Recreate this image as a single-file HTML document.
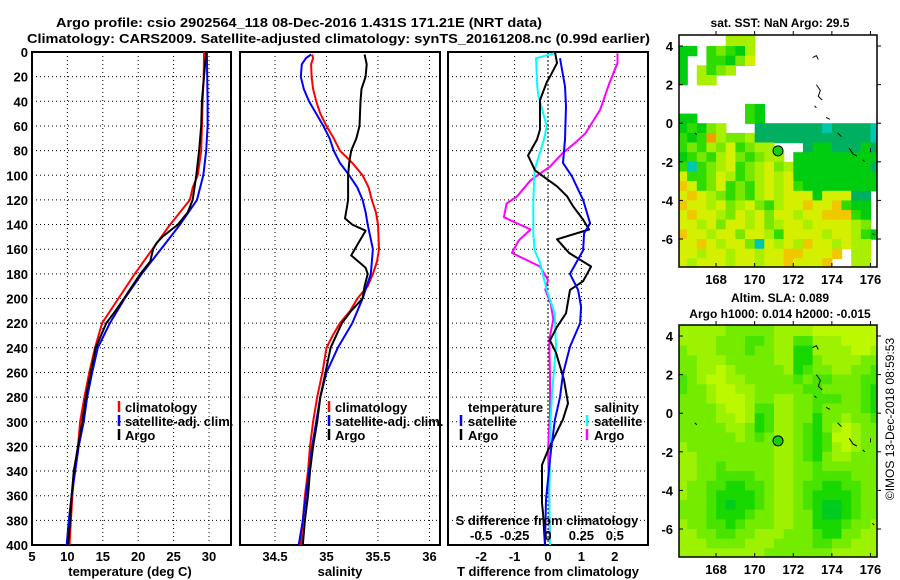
<!DOCTYPE html>
<html><head><meta charset="utf-8"><title>Argo profile</title>
<style>
html,body{margin:0;padding:0;background:#fff;}
svg{display:block;font-family:"Liberation Sans",Arial,sans-serif;font-weight:bold;}
</style></head>
<body>
<svg id="fig" width="900" height="580" viewBox="0 0 900 580" xmlns="http://www.w3.org/2000/svg">
<rect width="900" height="580" fill="#fff"/>
<text x="56" y="27" font-size="13" textLength="486" lengthAdjust="spacingAndGlyphs">Argo profile: csio 2902564_118 08-Dec-2016 1.431S 171.21E (NRT data)</text>
<text x="27" y="43" font-size="13" textLength="623" lengthAdjust="spacingAndGlyphs">Climatology: CARS2009. Satellite-adjusted climatology: synTS_20161208.nc (0.99d earlier)</text>
<g id="g"></g>
</svg>
<script>
// ---------- Data ----------
const depthTicks=[0,20,40,60,80,100,120,140,160,180,200,220,240,260,280,300,320,340,360,380,400];
const tempTicks=[5,10,15,20,25,30];
const salTicks=[34.5,35,35.5,36];
const tdiffTicks=[-2,-1,0,1,2];
const sdiffTicks=[-0.5,-0.25,0,0.25,0.5];
const sdiffTickLabels=["-0.5","-0.25","0","0.25","0.5"];

const tempClimDepth=[0,20,40,60,80,100,110,120,140,160,180,200,220,240,260,280,300,320,340,360,380,400];
const tempClim=[29.3,29.25,29.1,29.0,28.9,28.4,27.7,27.3,24.5,22.0,19.5,17.2,14.9,13.9,13.1,12.4,11.8,11.5,11.0,10.7,10.5,10.3];
const tempSatDepth=[0,20,40,60,80,100,120,140,160,180,200,220,240,260,280,300,320,340,360,380,400];
const tempSat=[29.7,29.75,29.8,29.8,29.6,29.2,28.3,25.9,23.2,20.5,18.1,16.0,14.3,13.5,12.8,12.3,11.6,11.1,10.6,10.2,9.9];
const tempArgoDepth=[0,20,40,60,80,100,120,130,140,150,155,160,170,180,200,210,220,240,260,280,300,320,340,360,380,400];
const tempArgo=[29.6,29.3,29.0,28.9,28.6,28.2,27.7,27.0,25.6,23.4,22.6,22.1,21.7,20.3,18.0,16.8,15.5,14.0,13.3,12.6,12.1,11.5,10.9,10.6,10.4,10.1];

const salClimDepth=[2,5,10,20,30,40,50,60,70,80,90,100,110,120,130,140,160,170,180,190,200,210,220,230,240,260,280,300,320,340,360,380,400];
const salClim=[34.86,34.87,34.85,34.855,34.87,34.90,34.94,35.0,35.07,35.13,35.25,35.35,35.41,35.44,35.48,35.5,35.51,35.49,35.45,35.40,35.30,35.23,35.13,35.06,35.0,34.96,34.91,34.87,34.84,34.82,34.79,34.77,34.75];
const salSatDepth=[2,5,10,20,30,40,50,60,70,80,90,100,110,120,130,140,160,180,190,200,220,240,260,280,300,320,340,360,380,400];
const salSat=[34.85,34.80,34.76,34.75,34.78,34.83,34.90,34.97,35.03,35.07,35.13,35.22,35.30,35.35,35.38,35.40,35.45,35.43,35.39,35.35,35.25,35.11,35.0,34.94,34.90,34.86,34.83,34.80,34.77,34.73];
const salArgoDepth=[2,10,20,30,40,60,70,80,90,100,120,125,135,140,145,155,165,175,180,190,200,210,220,240,260,280,300,320,340,360,380,400];
const salArgo=[35.37,35.39,35.38,35.34,35.33,35.32,35.29,35.24,35.22,35.21,35.21,35.20,35.18,35.25,35.38,35.31,35.24,35.38,35.40,35.37,35.35,35.24,35.15,35.04,34.99,34.94,34.91,34.87,34.84,34.82,34.79,34.77];

const tdSatDepth=[5,28,44,71,90,101,120,139,147,161,180,193,207,220,239,261,280,298,323,339,363,400];
const tdSat=[0.36,0.51,0.54,0.51,0.45,0.72,1.05,1.26,1.08,1.05,0.66,0.90,0.99,0.96,0.66,0.45,0.36,0.21,0.09,0.03,-0.06,-0.09];
const tdArgoDepth=[0,9,20,24,39,63,71,84,96,102,109,117,125,136,144,152,163,174,186,193,212,223,234,244,266,285,298,323,335,366,374,400];
const tdArgo=[0.21,0.27,0.06,-0.03,-0.24,-0.24,-0.33,-0.60,-0.39,-0.09,0.27,0.57,0.75,1.05,1.23,0.27,0.63,1.29,1.05,0.66,0.54,0.27,0.06,0.24,0.48,0.60,0.45,0.0,-0.18,-0.18,-0.15,-0.09];
const sdSatDepth=[1,5,29,36,60,71,85,96,120,147,161,171,193,212,239,277,298,323,363,400];
const sdSat=[0.05,-0.09,-0.08,-0.07,-0.01,-0.03,-0.07,-0.10,-0.11,-0.11,-0.10,-0.06,-0.01,0.05,0.06,0.03,0.02,0.015,0.01,0.015];
const sdArgoDepth=[1,5,9,25,47,66,74,82,93,104,117,123,134,144,153,163,174,185,193,204,217,233,266,293,323,363,400];
const sdArgo=[0.52,0.52,0.52,0.46,0.39,0.28,0.20,0.11,0.015,-0.13,-0.23,-0.31,-0.33,-0.13,-0.22,-0.27,-0.06,0,-0.02,0.02,0.04,0.01,0.015,0.015,0,0.01,0.015];

const lonTicks=[168,170,172,174,176];
const latTicks=[4,2,0,-2,-4,-6];
const argoLon=171.21, argoLat=-1.431;
const mapLon0=166.0, mapLat0=4.5, cellDeg=0.5;
const sstGrid=[
".....LLL.............",
"DD.MGMDL.............",
"D..MMDGY.............",
"D.LMGL...............",
"D.LL.................",
".....................",
".....................",
".......MD............",
"DD.....MD............",
"DMDGL...TTTTTTTCTTTTC",
"MDMOLGGLTTTTTTTTTTTTC",
"MGMLGYMGLL...TDDTTTDT",
"DMGMLYGMGLL.DDDDDDDDD",
"MCMGLYMGLYGLDDDDDDDDT",
"YMMGYLMGLYLYDDDDDDDDD",
"oYMGYMGMLYLYMDDDDDDDD",
"YoYLGMGMLYLYYYDYYYTT.",
"oYYLYGLYGMLYYoYYoMDD.",
"YoYYLGYLYGYYLYYoooMD.",
"YYLYGYYLYGLYYLYYYYLG.",
"oYYLYYGYYLMYYYYLYYLMD",
"YYoYLYYGCYLYLoYYLYLL.",
"YYLYYLYYLYYooYYYo.LL.",
"YLYYYLYYLYYoYYYo..LL."];
const slaGrid=[
"LLLLLGGGGGLLLLYYYYYYY",
"LLLLGGGMMGLLMMLLLYYYY",
"GLLLGGGMGGLLDDLLLLYYL",
"GGLLLGGGGGLLDDGLLLLGG",
"GGLLYLGGGGGLDMGGLLGGM",
"MGLYYLLGGGGGMGMMGGGMM",
"MGGLYYLLGGGGGMMGGGGMD",
"GGGLYYYLGGLLGGMMMGGMD",
"GGGGLYYLMMLLGGMGGGGMD",
"GGGGLLYLDMLLGGDGGLGGM",
"GGGGGLLGDMLLGMDGLYLGG",
"GGGGGGLGMGLLGMDMYYLGG",
"LGGGGGGGGGLLGMDMLYLGG",
"LLGGGGGGGGLLGMDGLLGGG",
"LLGGMGGGGGLLGGMGGGGGG",
"LLGGMMMMGGLLGGMMMMGGG",
"LGGMMDDMMGLLGMMDDMMGG",
"LGGMDDDDMGLLGMDDDDMGG",
"GGGMDKDDMGLLGMDKKDMGG",
"GGGMDDDMGGLLGGDKKDMGG",
"LGGMMDMGGGLLGGDDDMGGL",
"LLGGMMGGLLLGGGMDDGGLL",
"LLLGGGGLLLGGGGMMGGLLL",
"LLLLLLLLLGGGGGGGLLLLL"];

// ---------- Drawing ----------
const NS="http://www.w3.org/2000/svg";
const G=document.getElementById('g');
function el(tag,attrs,parent){const e=document.createElementNS(NS,tag);for(const k in attrs)e.setAttribute(k,attrs[k]);(parent||G).appendChild(e);return e;}
const Y0=52,Y1=545;
const yD=d=>Y0+d*(Y1-Y0)/400;
const xT=v=>32+(v-5)*7.08;
const xS=v=>275+(v-34.5)*103;
const xTD=v=>548+v*33.4;
const xSD=v=>548+v*133.6;

function panel(name,x0,x1,xs,ticks,zeroX){
  const g=el('g',{});
  
  
  depthTicks.forEach(d=>{if(d>0&&d<400){const l=el('line',{x1:x0,x2:x1,y1:yD(d),y2:yD(d),stroke:'#000','stroke-width':1,'stroke-dasharray':'1 3'},g);
    }});
  ticks.forEach(t=>{const x=xs(t);if(x>x0+2&&x<x1-2){const l=el('line',{x1:x,x2:x,y1:Y0,y2:Y1,stroke:'#000','stroke-width':1,'stroke-dasharray':(x===zeroX?'2 2':'1 3')},g);
    }});
  const r=el('rect',{x:x0,y:Y0,width:x1-x0,height:Y1-Y0,fill:'none',stroke:'#000','stroke-width':2},g);
  
  return g;
}
function series(g,name,depths,vals,xs,color,w){
  const pts=depths.map((d,i)=>xs(vals[i]).toFixed(1)+','+yD(d).toFixed(1)).join(' ');
  const p=el('polyline',{points:pts,fill:'none',stroke:color,'stroke-width':w||2,'stroke-linejoin':'round'},g);
  
  
}
function txt(s,x,y,attrs,name){const t=el('text',Object.assign({x:x,y:y,'font-size':13},attrs||{}));t.textContent=s;
  return t;}
function legMark(x,y,color){const l=el('line',{x1:x,x2:x,y1:y-6,y2:y+5,stroke:color,'stroke-width':2.5});
  }

// Panel 1
const p1=panel('temperature-panel',32,231,xT,tempTicks);
series(p1,'temperature-climatology-line',tempClimDepth,tempClim,xT,'#f00');
series(p1,'temperature-satellite-line',tempSatDepth,tempSat,xT,'#00f');
series(p1,'temperature-argo-line',tempArgoDepth,tempArgo,xT,'#000');
depthTicks.forEach(d=>txt(String(d),28,yD(d)+5,{'text-anchor':'end'},'y-tick-label'));
tempTicks.forEach(t=>txt(String(t),xT(t),561,{'text-anchor':'middle'},'x-tick-label'));
txt('temperature (deg C)',130,576,{'text-anchor':'middle'},'x-axis-title');
[['climatology','#f00'],['satellite-adj. clim.','#00f'],['Argo','#000']].forEach((e,i)=>{legMark(119,407+14*i,e[1]);txt(e[0],125,412+14*i,{},'legend-entry');});

// Panel 2
const p2=panel('salinity-panel',240,440,xS,salTicks);
series(p2,'salinity-climatology-line',salClimDepth,salClim,xS,'#f00');
series(p2,'salinity-satellite-line',salSatDepth,salSat,xS,'#00f');
series(p2,'salinity-argo-line',salArgoDepth,salArgo,xS,'#000');
salTicks.forEach(t=>txt(String(t),xS(t),561,{'text-anchor':'middle'},'x-tick-label'));
txt('salinity',340,576,{'text-anchor':'middle'},'x-axis-title');
[['climatology','#f00'],['satellite-adj. clim.','#00f'],['Argo','#000']].forEach((e,i)=>{legMark(329,407+14*i,e[1]);txt(e[0],335,412+14*i,{},'legend-entry');});

// Panel 3
const p3=panel('difference-panel',448,648,xTD,tdiffTicks,548);
series(p3,'salinity-argo-diff-line',sdArgoDepth,sdArgo,xSD,'#f0f');
series(p3,'salinity-satellite-diff-line',sdSatDepth,sdSat,xSD,'#0ff');
series(p3,'temperature-argo-diff-line',tdArgoDepth,tdArgo,xTD,'#000');
series(p3,'temperature-satellite-diff-line',tdSatDepth,tdSat,xTD,'#00f');
tdiffTicks.forEach(t=>txt(String(t),xTD(t),561,{'text-anchor':'middle'},'x-tick-label'));
txt('T difference from climatology',548,576,{'text-anchor':'middle'},'x-axis-title');
txt('S difference from climatology',547,525,{'text-anchor':'middle'},'secondary-x-axis-title');
sdiffTicks.forEach((t,i)=>txt(sdiffTickLabels[i],xSD(t),540,{'text-anchor':'middle'},'secondary-x-tick-label'));
txt('temperature',468,412,{},'legend-header');
legMark(461,421,'#00f');txt('satellite',468,426,{},'legend-entry');
legMark(461,435,'#000');txt('Argo',468,440,{},'legend-entry');
txt('salinity',594,412,{},'legend-header');
legMark(587,421,'#0ff');txt('satellite',594,426,{},'legend-entry');
legMark(587,435,'#f0f');txt('Argo',594,440,{},'legend-entry');

// Maps
const MX0=679,MX1=877,PX=19.3,LON0=166.08,LAT0=4.57;
const sstColors={Y:'#d4f000',o:'#f0c800',O:'#f0a000',L:'#a8f000',G:'#78e800',M:'#30dc00',D:'#00cc10',T:'#00b060',C:'#00c8b0'};
const slaColors={Y:'#bcf800',L:'#9cf200',G:'#74ec00',M:'#48e400',D:'#18d800',K:'#00cc20'};
function map(name,top,grid,colors,titles){
  const bot=top+232;
  const lx=l=>MX0+(l-LON0)*PX, ly=l=>top+(LAT0-l)*PX;
  const g=el('g',{});
  
  
  const cid='clip'+top;
  const cp=el('clipPath',{id:cid},g);el('rect',{x:MX0,y:top,width:MX1-MX0,height:bot-top},cp);
  const hg=el('g',{'clip-path':'url(#'+cid+')'},g);
  grid.forEach((row,r)=>{for(let c=0;c<row.length;c++){const ch=row[c];if(!colors[ch])continue;
    const lon=mapLon0+c*cellDeg, lat=mapLat0-r*cellDeg;
    const x=lx(lon);
    const rc=el('rect',{x:x.toFixed(1),y:(r===0?top:ly(lat)).toFixed(1),width:(cellDeg*PX+0.6).toFixed(1),height:((r===0?ly(lat-cellDeg)-top:cellDeg*PX)+0.6).toFixed(1),fill:colors[ch]},hg);
    }});
  [[[173.0,3.4],[173.2,3.5],[173.3,3.3]],[[173.2,2.0],[173.4,1.7],[173.3,1.4],[173.5,1.2]],[[173.1,0.9],[173.2,0.8]],[[173.7,0.3],[173.9,0.2]],[[174.3,-0.5],[174.5,-0.7]],[[174.9,-1.3],[175.1,-1.6],[175.3,-1.7]],[[175.6,-1.9],[175.7,-2.0]],[[176.0,-1.3],[176.0,-1.5]],[[176.1,-5.7],[176.2,-5.8]],[[166.9,-0.5],[167.0,-0.6]]].forEach(s=>{
    const p=el('polyline',{points:s.map(q=>lx(q[0]).toFixed(1)+','+ly(q[1]).toFixed(1)).join(' '),fill:'none',stroke:'#000','stroke-width':1},hg);
    });
  const dot=el('circle',{cx:lx(argoLon),cy:ly(argoLat),r:5,fill:'#10d010',stroke:'#000','stroke-width':1},g);
  
  const fr=el('rect',{x:MX0,y:top,width:MX1-MX0,height:bot-top,fill:'none',stroke:'#000','stroke-width':1.5},g);
  
  lonTicks.forEach(l=>{const x=lx(l);
    el('line',{x1:x,x2:x,y1:top,y2:top-4,stroke:'#000','stroke-width':1},g);
    el('line',{x1:x,x2:x,y1:bot,y2:bot-4,stroke:'#000','stroke-width':1},g);
    txt(String(l),x,bot+17,{'text-anchor':'middle'},'map-lon-label');});
  latTicks.forEach(l=>{const y=ly(l);
    el('line',{x1:MX1,x2:MX1+4,y1:y,y2:y,stroke:'#000','stroke-width':1},g);
    el('line',{x1:MX0,x2:MX0+4,y1:y,y2:y,stroke:'#000','stroke-width':1},g);
    txt(String(l),673,y+5,{'text-anchor':'end'},'map-lat-label');});
  titles.forEach(t=>txt(t[0],780,t[1],{'text-anchor':'middle','font-size':12},'map-title'));
}
map('sst-map',35,sstGrid,sstColors,[['sat. SST: NaN Argo: 29.5',27]]);
map('sla-map',325,slaGrid,slaColors,[['Altim. SLA: 0.089',302],['Argo h1000: 0.014 h2000: -0.015',318]]);
const imos=txt('\u00A9IMOS 13-Dec-2018 08:59:53',0,0,{'text-anchor':'middle','font-weight':'normal','font-size':12,transform:'translate(894,419) rotate(-90)'},'imos-timestamp');
</script>
</body></html>
